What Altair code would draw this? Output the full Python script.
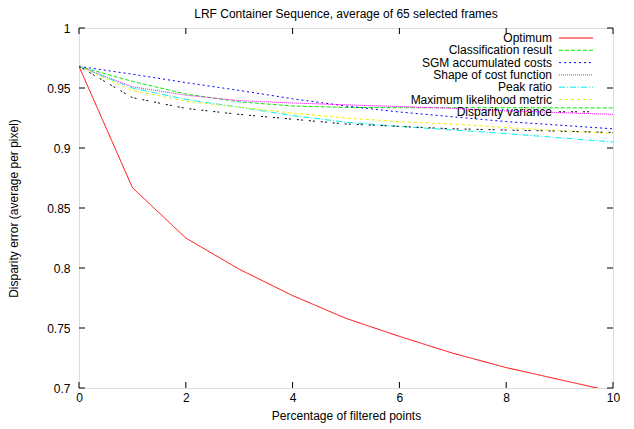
import altair as alt
import pandas as pd

# ---- data ----
pct = [0, 1, 2, 3, 4, 5, 6, 7, 8, 9, 10]
optimum = [0.968, 0.867, 0.825, 0.799, 0.777, 0.758, 0.743, 0.729, 0.717, 0.707, 0.697]
classification = [0.968, 0.9555, 0.945, 0.9385, 0.935, 0.9338, 0.9336, 0.9336, 0.9335, 0.9335, 0.9334]
sgm = [0.968, 0.9615, 0.9545, 0.948, 0.941, 0.935, 0.930, 0.926, 0.922, 0.919, 0.916]
shape = [0.968, 0.951, 0.944, 0.9395, 0.9375, 0.936, 0.9345, 0.933, 0.931, 0.9295, 0.928]
peak = [0.968, 0.950, 0.9405, 0.934, 0.927, 0.9215, 0.918, 0.915, 0.912, 0.9085, 0.905]
maxlik = [0.968, 0.948, 0.939, 0.934, 0.929, 0.925, 0.922, 0.920, 0.917, 0.9145, 0.912]
dispvar = [0.968, 0.942, 0.933, 0.928, 0.924, 0.920, 0.918, 0.916, 0.915, 0.914, 0.913]

series_names = ["Optimum", "Classification result", "SGM accumulated costs",
                "Shape of cost function", "Peak ratio", "Maximum likelihood metric",
                "Disparity variance"]
series_values = [optimum, classification, sgm, shape, peak, maxlik, dispvar]
series_colors = ["#ff0000", "#00ee00", "#0000ff", "#ff00ff", "#00eeee", "#eeee00", "#000000"]
series_dash = [[1, 0], [4, 2], [2, 3], [1, 1], [6, 2, 1, 2], [3, 3], [2, 2, 2, 6]]

x_ticks = [0, 2, 4, 6, 8, 10]
y_ticks = [0.7, 0.75, 0.8, 0.85, 0.9, 0.95, 1.0]

rows = []
for k, (name, vals) in enumerate(zip(series_names, series_values)):
    for p, v in zip(pct, vals):
        rows.append({"pct": p, "error": v, "series": name, "k": k})
df = pd.DataFrame(rows)

FONT = "Liberation Sans"
W, H = 534, 360
TL = 6

xscale = alt.Scale(domain=[0, 10], nice=False, zero=False)
yscale = alt.Scale(domain=[0.7, 1.0], nice=False, zero=False)

xaxis = alt.Axis(values=x_ticks, title="Percentage of filtered points", ticks=False,
                 domain=False, grid=False, labelPadding=4, titlePadding=7,
                 labelFontSize=12, titleFontSize=12, titleFontWeight="normal",
                 labelFont=FONT, titleFont=FONT, labelColor="black", titleColor="black",
                 labelFlush=False, labelOverlap=False, format="d")
yaxis = alt.Axis(values=y_ticks, title="Disparity error (average  per pixel)", ticks=False,
                 domain=False, grid=False, labelPadding=9, titlePadding=26,
                 labelFontSize=12, titleFontSize=12, titleFontWeight="normal",
                 labelFont=FONT, titleFont=FONT, labelColor="black", titleColor="black",
                 labelFlush=False, labelOverlap=False, format="~g")

X = alt.X("pct:Q", scale=xscale, axis=xaxis)
Y = alt.Y("error:Q", scale=yscale, axis=yaxis)

legend = alt.Legend(title=None, orient="none", legendX=491, legendY=4,
                    symbolType="M-3.4,0H3.4", symbolSize=100, symbolStrokeWidth=1,
                    labelAlign="right", labelOffset={"expr": "-30"}, labelFontSize=12,
                    labelFont=FONT, labelColor="black", rowPadding=0.3, padding=0,
                    labelLimit=300)

lines = alt.Chart(df).mark_line(strokeWidth=1, clip=True).encode(
    x=X, y=Y,
    color=alt.Color("series:N", scale=alt.Scale(domain=series_names, range=series_colors),
                    legend=legend),
    strokeDash=alt.StrokeDash("series:N", scale=alt.Scale(domain=series_names, range=series_dash),
                              legend=legend),
    order=alt.Order("pct:Q"),
)

xt = pd.DataFrame({"pct": x_ticks})
yt = pd.DataFrame({"error": y_ticks})

tick_b = alt.Chart(xt).mark_rule(color="black", strokeWidth=1).encode(
    x=X, y=alt.value(H), y2=alt.value(H - TL))
tick_t = alt.Chart(xt).mark_rule(color="black", strokeWidth=1).encode(
    x=X, y=alt.value(0), y2=alt.value(TL))
tick_l = alt.Chart(yt).mark_rule(color="black", strokeWidth=1).encode(
    y=Y, x=alt.value(0), x2=alt.value(TL))
tick_r = alt.Chart(yt).mark_rule(color="black", strokeWidth=1).encode(
    y=Y, x=alt.value(W), x2=alt.value(W - TL))

chart = alt.layer(lines, tick_b, tick_t, tick_l, tick_r).properties(
    width=W, height=H,
    title=alt.TitleParams("LRF Container Sequence, average of 65 selected frames",
                          fontSize=12, font=FONT, fontWeight="normal", color="black",
                          anchor="middle", frame="group", offset=0, dy=-1),
    autosize=alt.AutoSizeParams(type="none"),
    padding={"left": 71, "top": 20, "right": 13, "bottom": 37},
).configure_view(stroke="black", strokeWidth=1).configure(background="white")

chart.save("out.html", embed_options={"renderer": "svg", "actions": False})
